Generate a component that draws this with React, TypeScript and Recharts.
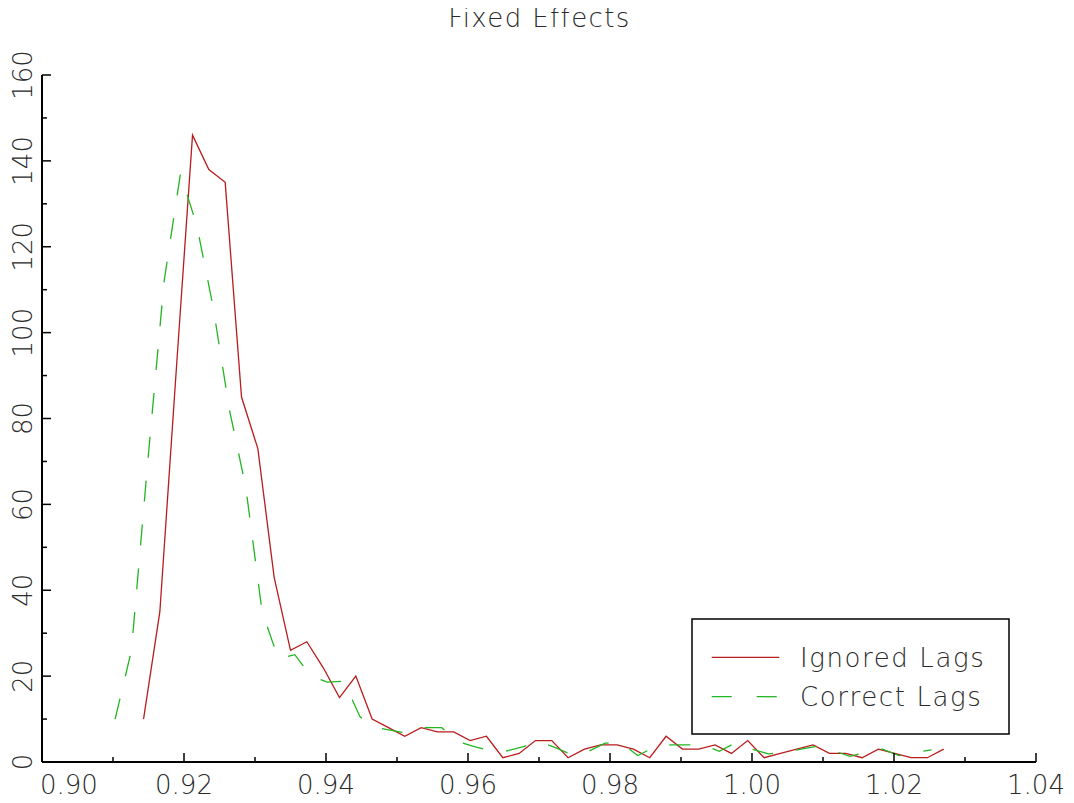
import React from "react";
import { LineChart, Line, XAxis, YAxis } from "recharts";

const TITLE = "Fixed Effects";
const SERIES_NAMES = ["Ignored Lags", "Correct Lags"];
const SERIES_COLORS = ["#b81c1c", "#22b522"];

const ignoredX = [
  0.9143, 0.9166, 0.9189, 0.9212, 0.9235, 0.9258, 0.9281, 0.9304, 0.9327, 0.935,
  0.9373, 0.9396, 0.9419, 0.9442, 0.9465, 0.9488, 0.9511, 0.9534, 0.9557, 0.958,
  0.9603, 0.9626, 0.9649, 0.9672, 0.9695, 0.9718, 0.9741, 0.9764, 0.9787, 0.981,
  0.9833, 0.9856, 0.9879, 0.9902, 0.9925, 0.9948, 0.9971, 0.9994, 1.0017, 1.004,
  1.0063, 1.0086, 1.0109, 1.0132, 1.0155, 1.0178, 1.0201, 1.0224, 1.0247, 1.027,
];
const ignoredY = [
  10, 35, 91, 146, 138, 135, 85, 73, 43, 26,
  28, 22, 15, 20, 10, 8, 6, 8, 7, 7,
  5, 6, 1, 2, 5, 5, 1, 3, 4, 4,
  3, 1, 6, 3, 3, 4, 2, 5, 1, 2,
  3, 4, 2, 2, 1, 3, 2, 1, 1, 3,
];

const correctX = [
  0.9103, 0.9126, 0.9149, 0.9172, 0.9195, 0.9218, 0.9241, 0.9264, 0.9287, 0.931,
  0.9333, 0.9356, 0.9379, 0.9402, 0.9425, 0.9448, 0.9471, 0.9494, 0.9517, 0.954,
  0.9563, 0.9586, 0.9609, 0.9632, 0.9655, 0.9678, 0.9701, 0.9724, 0.9747, 0.977,
  0.9793, 0.9816, 0.9839, 0.9862, 0.9885, 0.9908, 0.9931, 0.9954, 0.9977, 1.0,
  1.0023, 1.0046, 1.0069, 1.0092, 1.0115, 1.0138, 1.0161, 1.0184, 1.0207, 1.023,
  1.0253,
];
const correctY = [
  10, 26, 70, 112, 137, 125, 106, 82, 64, 35,
  24, 25, 20, 18.6, 18.8, 10.5, 8, 7.3, 6.6, 8,
  8, 4.7, 3.6, 2.6, 2.6, 3.6, 4.7, 3.3, 1.6, 2.5,
  4.4, 4.4, 1.5, 3.4, 4, 4, 4, 2.5, 4.5, 3,
  1.9, 2.3, 3, 3.7, 2.6, 1.3, 2.3, 3, 1.5, 2.3,
  2.8,
];

const xTicks = [0.9, 0.91, 0.92, 0.93, 0.94, 0.95, 0.96, 0.97, 0.98, 0.99, 1.0, 1.01, 1.02, 1.03, 1.04];
const yTicks = [0, 10, 20, 30, 40, 50, 60, 70, 80, 90, 100, 110, 120, 130, 140, 150, 160];

const ignoredData = ignoredX.map((x, i) => ({ x, y: ignoredY[i] }));
const correctData = correctX.map((x, i) => ({ x, y: correctY[i] }));

const W = 1074;
const H = 803;
const M_TOP = 75;
const M_RIGHT = 38;
const Y_W = 42;
const X_H = 41;
const PLOT_TOP = M_TOP;
const PLOT_BOTTOM = H - X_H;
const PLOT_LEFT = Y_W;
const PLOT_RIGHT = W - M_RIGHT;

const FONT = "'DejaVu Sans', sans-serif";
const TEXT_COLOR = "#2a2a2a";
const MAJOR = 9;
const MINOR = 5;

const isMajorX = (v: number) => Math.round(v * 100) % 2 === 0;
const isMajorY = (v: number) => Math.round(v) % 20 === 0;

const BottomTick = (props: any) => {
  const { x, payload, index } = props;
  const v = payload.value as number;
  const major = isMajorX(v);
  return (
    <g>
      <line x1={x} x2={x} y1={PLOT_BOTTOM} y2={PLOT_BOTTOM - (major ? MAJOR : MINOR)} stroke="#000" strokeWidth={1.5} />
      {major && (
        <text
          x={index === 0 ? x - 2 : x}
          y={PLOT_BOTTOM + 32}
          textAnchor={index === 0 ? "start" : "middle"}
          fontFamily={FONT}
          fontWeight={200}
          fontSize={26}
          fill={TEXT_COLOR}
        >
          {v.toFixed(2)}
        </text>
      )}
    </g>
  );
};

const TopTick = (props: any) => {
  const { x, payload } = props;
  const major = isMajorX(payload.value);
  return <line x1={x} x2={x} y1={PLOT_TOP} y2={PLOT_TOP + (major ? MAJOR : MINOR)} stroke="#000" strokeWidth={1.5} />;
};

const LeftTick = (props: any) => {
  const { y, payload } = props;
  const v = payload.value as number;
  const major = isMajorY(v);
  const lx = 23;
  return (
    <g>
      <line x1={PLOT_LEFT} x2={PLOT_LEFT + (major ? MAJOR : MINOR)} y1={y} y2={y} stroke="#000" strokeWidth={1.5} />
      {major && (
        <text
          x={lx}
          y={y}
          transform={`rotate(-90, ${lx}, ${y})`}
          textAnchor="middle"
          dominantBaseline="central"
          fontFamily={FONT}
          fontWeight={200}
          fontSize={26}
          fill={TEXT_COLOR}
        >
          {String(v)}
        </text>
      )}
    </g>
  );
};

const RightTick = (props: any) => {
  const { y, payload } = props;
  const major = isMajorY(payload.value);
  return <line x1={PLOT_RIGHT} x2={PLOT_RIGHT - (major ? MAJOR : MINOR)} y1={y} y2={y} stroke="#000" strokeWidth={1.5} />;
};

export default function App() {
  return (
    <div style={{ position: "relative", width: W, height: H, background: "#fff", margin: "-8px 0 0 -8px" }}>
      <LineChart width={W} height={H} margin={{ top: M_TOP, right: M_RIGHT, bottom: 0, left: 0 }}>
        <XAxis
          xAxisId="b"
          dataKey="x"
          type="number"
          domain={[0.9, 1.04]}
          ticks={xTicks}
          interval={0}
          allowDataOverflow
          height={X_H}
          axisLine={{ stroke: "#000", strokeWidth: 2 }}
          tickLine={false}
          tick={<BottomTick />}
        />
        <XAxis
          xAxisId="t"
          dataKey="x"
          type="number"
          orientation="top"
          domain={[0.9, 1.04]}
          ticks={xTicks}
          interval={0}
          allowDataOverflow
          height={0}
          axisLine={{ stroke: "#000", strokeWidth: 2 }}
          tickLine={false}
          tick={<TopTick />}
        />
        <YAxis
          yAxisId="l"
          type="number"
          domain={[0, 160]}
          ticks={yTicks}
          interval={0}
          allowDataOverflow
          width={Y_W}
          axisLine={{ stroke: "#000", strokeWidth: 2 }}
          tickLine={false}
          tick={<LeftTick />}
        />
        <YAxis
          yAxisId="r"
          orientation="right"
          type="number"
          domain={[0, 160]}
          ticks={yTicks}
          interval={0}
          allowDataOverflow
          width={0}
          axisLine={{ stroke: "#000", strokeWidth: 2 }}
          tickLine={false}
          tick={<RightTick />}
        />
        <Line
          xAxisId="b"
          yAxisId="l"
          data={ignoredData}
          dataKey="y"
          name={SERIES_NAMES[0]}
          type="linear"
          stroke={SERIES_COLORS[0]}
          strokeWidth={1.3}
          dot={false}
          activeDot={false}
          isAnimationActive={false}
        />
        <Line
          xAxisId="b"
          yAxisId="l"
          data={correctData}
          dataKey="y"
          name={SERIES_NAMES[1]}
          type="linear"
          stroke={SERIES_COLORS[1]}
          strokeWidth={1.3}
          strokeDasharray="21 23"
          dot={false}
          activeDot={false}
          isAnimationActive={false}
        />
      </LineChart>
      <svg
        width={W}
        height={H}
        style={{ position: "absolute", left: 0, top: 0, pointerEvents: "none" }}
      >
        <text
          x={539.5}
          y={27}
          textAnchor="middle"
          fontFamily={FONT}
          fontWeight={200}
          fontSize={26}
          letterSpacing={1.4}
          fill={TEXT_COLOR}
        >
          {TITLE}
        </text>
        <g transform="translate(692, 619)">
          <rect x={0} y={0} width={317} height={115} fill="#fff" stroke="#000" strokeWidth={1.5} />
          <line x1={19.7} x2={87.3} y1={38.3} y2={38.3} stroke={SERIES_COLORS[0]} strokeWidth={1.3} />
          <line x1={19.7} x2={87.3} y1={77.7} y2={77.7} stroke={SERIES_COLORS[1]} strokeWidth={1.3} strokeDasharray="20 25" />
          <text x={108} y={48} fontFamily={FONT} fontWeight={200} fontSize={26} letterSpacing={1.6} fill={TEXT_COLOR}>
            {SERIES_NAMES[0]}
          </text>
          <text x={108} y={87} fontFamily={FONT} fontWeight={200} fontSize={26} letterSpacing={1.6} fill={TEXT_COLOR}>
            {SERIES_NAMES[1]}
          </text>
        </g>
      </svg>
    </div>
  );
}
